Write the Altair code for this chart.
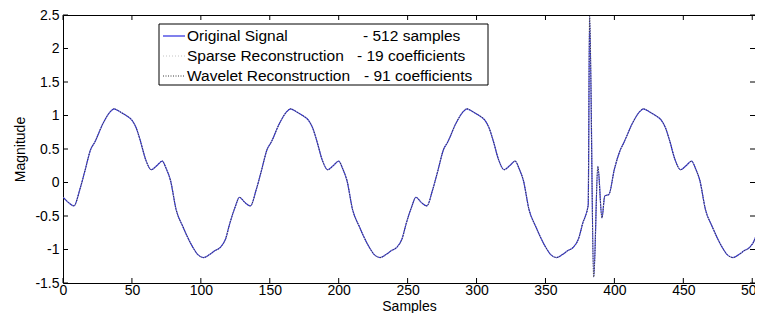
import altair as alt
import pandas as pd

# ---- data ----
sample_x = [
    0, 4, 8, 12, 16, 20, 23, 29, 34, 37, 41, 45, 50, 53, 56, 60, 64, 68, 72, 75, 78, 82, 87, 94, 98, 102, 106, 110, 114, 118, 121, 125,
    128, 132, 136, 140, 144, 148, 151, 157, 162, 165, 169, 173, 178, 181, 184, 188, 192, 196, 200, 203, 206, 210, 215, 222, 226, 230, 234, 238, 242, 246, 249, 253,
    256, 260, 264, 268, 272, 276, 279, 285, 290, 293, 297, 301, 306, 309, 312, 316, 320, 324, 328, 331, 334, 338, 343, 350, 354, 358, 362, 366, 370, 374, 377, 381,
    382, 385, 388, 391, 393, 396,
    400, 404, 407, 413, 418, 421, 425, 429, 434, 437, 440, 444, 448, 452, 456, 459, 462, 466, 471, 478, 482, 486, 490, 494, 498, 502, 505, 509, 511,
]
signal_y = [
    -0.22, -0.30, -0.35, -0.12, 0.18, 0.49, 0.60, 0.88, 1.05, 1.10, 1.06, 1.01, 0.93, 0.82, 0.63, 0.34, 0.19, 0.25, 0.32, 0.20, 0.03, -0.40, -0.66, -0.96, -1.08, -1.12, -1.08, -1.02, -0.97, -0.84, -0.61, -0.36,
    -0.22, -0.30, -0.35, -0.12, 0.18, 0.49, 0.60, 0.88, 1.05, 1.10, 1.06, 1.01, 0.93, 0.82, 0.63, 0.34, 0.19, 0.25, 0.32, 0.20, 0.03, -0.40, -0.66, -0.96, -1.08, -1.12, -1.08, -1.02, -0.97, -0.84, -0.61, -0.36,
    -0.22, -0.30, -0.35, -0.12, 0.18, 0.49, 0.60, 0.88, 1.05, 1.10, 1.06, 1.01, 0.93, 0.82, 0.63, 0.34, 0.19, 0.25, 0.32, 0.20, 0.03, -0.40, -0.66, -0.96, -1.08, -1.12, -1.08, -1.02, -0.97, -0.84, -0.61, -0.34,
    2.48, -1.41, 0.24, -0.53, -0.20, -0.18,
    0.20, 0.47, 0.60, 0.88, 1.05, 1.10, 1.06, 1.01, 0.93, 0.82, 0.63, 0.34, 0.19, 0.25, 0.32, 0.20, 0.03, -0.40, -0.66, -0.96, -1.08, -1.12, -1.08, -1.02, -0.97, -0.84, -0.61, -0.40, -0.28,
]
sparse_y = signal_y
wavelet_y = signal_y

x_ticks = [0, 50, 100, 150, 200, 250, 300, 350, 400, 450, 500]
y_ticks = [-1.5, -1.0, -0.5, 0.0, 0.5, 1.0, 1.5, 2.0, 2.5]

series_names = ["Original Signal", "Sparse Reconstruction", "Wavelet Reconstruction"]
series_counts = ["- 512 samples", "- 19 coefficients", "- 91 coefficients"]

# ---- layout / style ----
W, H = 692, 268
FONT = "Liberation Sans"
styles = [
    dict(color="#2a2ae0", strokeWidth=1.2),
    dict(color="#c4c4c4", strokeWidth=1.0, strokeDash=[1, 2]),
    dict(color="#3a3a3a", strokeWidth=1.0, strokeDash=[1, 1.5]),
]

df_orig = pd.DataFrame({"x": sample_x, "y": signal_y})
df_sparse = pd.DataFrame({"x": sample_x, "y": sparse_y})
df_wave = pd.DataFrame({"x": sample_x, "y": wavelet_y})

minus_fix = "replace(datum.label, '\u2212', '-')"

xscale = alt.Scale(domain=[0, 502], nice=False, zero=False)
yscale = alt.Scale(domain=[-1.5, 2.5], nice=False, zero=False)

xaxis = alt.Axis(values=x_ticks, title="Samples", ticks=False, tickSize=0, domain=False, grid=False,
                 format="d", labelFontSize=14, labelPadding=0, titleFontSize=14, titleFontWeight="normal",
                 titleY=16, labelFont=FONT, titleFont=FONT, labelColor="black", titleColor="black",
                 labelFlush=False, labelOverlap=False)
yaxis = alt.Axis(values=y_ticks, title="Magnitude", ticks=False, tickSize=0, domain=False, grid=False,
                 format=".1~f", labelExpr=minus_fix,
                 labelFontSize=14, labelPadding=4, titleFontSize=14, titleFontWeight="normal",
                 titleX=-36, labelFont=FONT, titleFont=FONT, labelColor="black", titleColor="black",
                 labelFlush=False, labelOverlap=False)

xenc = alt.X("x:Q", scale=xscale, axis=xaxis)
yenc = alt.Y("y:Q", scale=yscale, axis=yaxis)

line_orig = alt.Chart(df_orig).mark_line(clip=True, interpolate="monotone", **styles[0]).encode(x=xenc, y=yenc)
line_sparse = alt.Chart(df_sparse).mark_line(clip=True, interpolate="monotone", **styles[1]).encode(x=xenc, y=yenc)
line_wave = alt.Chart(df_wave).mark_line(clip=True, interpolate="monotone", **styles[2]).encode(x=xenc, y=yenc)

# inward ticks (MATLAB box style)
dfx = pd.DataFrame({"x": x_ticks})
dfy = pd.DataFrame({"y": y_ticks})
tick_b = alt.Chart(dfx).mark_rule(color="black", strokeWidth=1).encode(x=xenc, y=alt.value(H), y2=alt.value(H - 5))
tick_t = alt.Chart(dfx).mark_rule(color="black", strokeWidth=1).encode(x=xenc, y=alt.value(0), y2=alt.value(5))
tick_l = alt.Chart(dfy).mark_rule(color="black", strokeWidth=1).encode(y=yenc, x=alt.value(0), x2=alt.value(5))
tick_r = alt.Chart(dfy).mark_rule(color="black", strokeWidth=1).encode(y=yenc, x=alt.value(W), x2=alt.value(W - 5))

# legend box
leg_x0, leg_x1, leg_y0, leg_y1 = 96, 425, 9, 70
row_y = [21, 41, 61]
box = alt.Chart(pd.DataFrame({"a": [0]})).mark_rect(fill="white", stroke="black", strokeWidth=1).encode(
    x=alt.value(leg_x0), x2=alt.value(leg_x1), y=alt.value(leg_y0), y2=alt.value(leg_y1))

leg_layers = [box]
right_x = [300, 294, 301]
for i in range(3):
    st = dict(styles[i])
    leg_layers.append(
        alt.Chart(pd.DataFrame({"a": [0]})).mark_rule(**st).encode(
            x=alt.value(100), x2=alt.value(122), y=alt.value(row_y[i]))
    )
    leg_layers.append(
        alt.Chart(pd.DataFrame({"t": [series_names[i]]})).mark_text(
            align="left", baseline="middle", fontSize=15.5, font=FONT, color="black").encode(
            text="t:N", x=alt.value(124), y=alt.value(row_y[i]))
    )
    leg_layers.append(
        alt.Chart(pd.DataFrame({"t": [series_counts[i]]})).mark_text(
            align="left", baseline="middle", fontSize=15.5, font=FONT, color="black").encode(
            text="t:N", x=alt.value(right_x[i]), y=alt.value(row_y[i]))
    )

chart = alt.layer(
    line_orig, line_sparse, line_wave, tick_b, tick_t, tick_l, tick_r, *leg_layers
).properties(
    width=W, height=H,
    autosize=alt.AutoSizeParams(type="none"),
    padding={"left": 55, "top": 7, "right": 0, "bottom": 30},
    background="white",
).configure_view(stroke="black", strokeWidth=1)

chart.save("out.html", embed_options={"renderer": "svg", "actions": False})
